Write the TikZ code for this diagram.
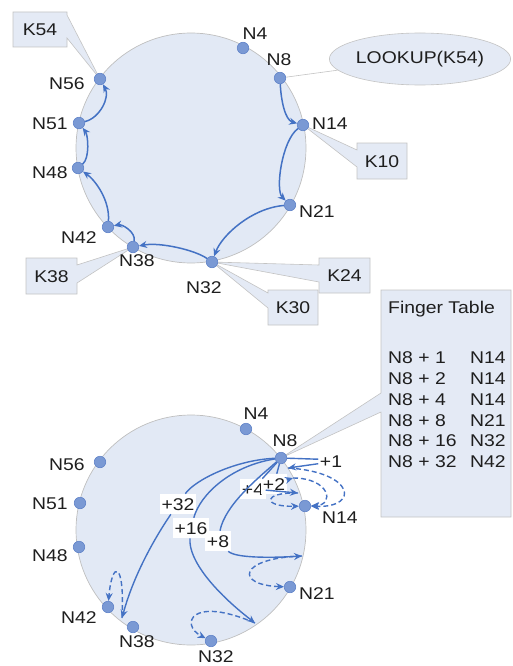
\documentclass[tikz,border=0pt]{standalone}
\usepackage{fontspec}
\setmainfont{Liberation Sans}[FakeStretch=1.14]
\usetikzlibrary{arrows.meta,shapes.geometric}

\definecolor{ringfill}{RGB}{226,233,245}
\definecolor{ringline}{RGB}{191,191,191}
\definecolor{dotfill}{RGB}{122,153,212}
\definecolor{dotline}{RGB}{95,130,200}
\definecolor{arrowc}{RGB}{68,114,196}
\definecolor{callfill}{RGB}{228,234,245}
\definecolor{callline}{RGB}{195,195,195}
\definecolor{txt}{RGB}{30,30,30}

\begin{document}
\begin{tikzpicture}[x=1pt,y=-1pt,
  every node/.style={font=\fontsize{17pt}{20.8pt}\selectfont},
  ring/.style={fill=ringfill, draw=ringline, line width=0.7pt},
  dot/.style={circle, fill=dotfill, draw=dotline, line width=0.6pt, minimum size=11.5pt, inner sep=0pt},
  lbl/.style={inner sep=0pt, text height=12.2pt, text depth=0pt, text=txt},
  callout/.style={fill=callfill, draw=callline, line width=0.6pt},
  hop/.style={draw=arrowc, line width=1.5pt, -{Stealth[length=8pt,width=7pt]}},
  finger/.style={draw=arrowc, line width=1.4pt},
  fingerto/.style={finger, -{Stealth[length=8pt,width=7pt]}},
  succ/.style={draw=arrowc, line width=1.4pt, dash pattern=on 5pt off 3pt, -{Stealth[length=8pt,width=7pt]}},
  tag/.style={lbl, fill=white, inner xsep=1.5pt, inner ysep=4pt},
]
\useasboundingbox (0,0) rectangle (512,666);

% ---------- the two rings ----------
\path[ring] (191,148) circle[radius=115pt];
\path[ring] (191,530) circle[radius=115pt];

% ---------- node positions, upper ring ----------
\coordinate (pa4)  at (243,48);
\coordinate (pa8)  at (280,78);
\coordinate (pa14) at (303,125);
\coordinate (pa21) at (290,205);
\coordinate (pa32) at (212,262);
\coordinate (pa38) at (133,247);
\coordinate (pa42) at (108,227);
\coordinate (pa48) at (78,168);
\coordinate (pa51) at (79,123);
\coordinate (pa56) at (100,79);

% ---------- node positions, lower ring ----------
\coordinate (pb4)  at (246,429);
\coordinate (pb8)  at (281,458);
\coordinate (pb14) at (305,506);
\coordinate (pb21) at (290,587);
\coordinate (pb32) at (211,641);
\coordinate (pb38) at (133,627);
\coordinate (pb42) at (108,607);
\coordinate (pb48) at (79,547);
\coordinate (pb51) at (80,503);
\coordinate (pb56) at (100,462);

% ---------- key callouts ----------
\filldraw[callout] (13,12) -- (67,12) -- (67,15) -- (pa56) -- (67,38) -- (67,47) -- (13,47) -- cycle;
\node[lbl] (k54) at (40,29.5) {K54};

\filldraw[callout] (357,143) -- (407,143) -- (407,179) -- (357,179) -- (357,167) -- (pa14) -- (357,150) -- cycle;
\node[lbl] (k10) at (382,161) {K10};

\filldraw[callout] (26,258) -- (77,258) -- (77,265) -- (pa38) -- (77,283) -- (77,294) -- (26,294) -- cycle;
\node[lbl] (k38) at (51.5,276) {K38};

\filldraw[callout] (319,258) -- (370,258) -- (370,293) -- (319,293) -- (319,282) -- (pa32) -- (319,265) -- cycle;
\node[lbl] (k24) at (344.5,275.5) {K24};

\filldraw[callout] (268,290) -- (318,290) -- (318,325) -- (268,325) -- (268,308) -- (pa32) -- (268,293) -- cycle;
\node[lbl] (k30) at (293,307.5) {K30};

% ---------- finger table callout ----------
\filldraw[callout] (381,290) -- (511,290) -- (511,517) -- (381,517) -- (381,412) -- (pb8) -- (381,393) -- cycle;
\node[lbl, anchor=west] (fthead) at (388,307) {Finger Table};
\foreach \i/\a/\b in {1/1/N14, 2/2/N14, 3/4/N14, 4/8/N21, 5/16/N32, 6/32/N42} {
  \node[lbl, anchor=west] (ftl\i) at (388,{357.5+20.8*(\i-1)}) {N8 + \a};
  \node[lbl, anchor=west] (ftr\i) at (470,{357.5+20.8*(\i-1)}) {\b};
}

% ---------- lookup request ----------
\node[ellipse, fill=callfill, draw=callline, line width=0.6pt, minimum width=154pt, minimum height=52pt, inner sep=0pt, text=txt] (lookup) at (420,59) {LOOKUP(K54)};
\draw[callline, line width=0.6pt] (pa8) -- (lookup);

% ---------- ring nodes ----------
\foreach \n in {4,8,14,21,32,38,42,48,51,56} {
  \node[dot] (a\n) at (pa\n) {};
  \node[dot] (b\n) at (pb\n) {};
}

% ---------- ring labels, upper ----------
\node[lbl] (la4)  at (255,33)  {N4};
\node[lbl] (la8)  at (279,59)  {N8};
\node[lbl] (la14) at (330,123) {N14};
\node[lbl] (la21) at (317,211) {N21};
\node[lbl] (la32) at (204,287) {N32};
\node[lbl] (la38) at (137,260) {N38};
\node[lbl] (la42) at (79,237)  {N42};
\node[lbl] (la48) at (50,172)  {N48};
\node[lbl] (la51) at (50,123)  {N51};
\node[lbl] (la56) at (67,83)   {N56};

% ---------- ring labels, lower ----------
\node[lbl] (lb4)  at (256,413) {N4};
\node[lbl] (lb8)  at (285,440) {N8};
\node[lbl] (lb14) at (340,517) {N14};
\node[lbl] (lb21) at (317,593) {N21};
\node[lbl] (lb32) at (216,656) {N32};
\node[lbl] (lb38) at (137,641) {N38};
\node[lbl] (lb42) at (79,617)  {N42};
\node[lbl] (lb48) at (50,555)  {N48};
\node[lbl] (lb51) at (50,503)  {N51};
\node[lbl] (lb56) at (67,464)  {N56};

% ---------- lookup path on the upper ring ----------
\draw[hop] (a8)  .. controls (281,100) and (285,120) .. (a14);
\draw[hop] (a14) .. controls (282,140) and (275,190) .. (a21);
\draw[hop] (a21) .. controls (252,208) and (222,235) .. (a32);
\draw[hop] (a32) .. controls (195,250) and (160,242) .. (a38);
\draw[hop] (a38) .. controls (136,232) and (122,224) .. (a42);
\draw[hop] (a42) .. controls (110,200) and (95,180)  .. (a48);
\draw[hop] (a48) .. controls (90,158)  and (88,135)  .. (a51);
\draw[hop] (a51) .. controls (100,118) and (110,97)  .. (a56);

% ---------- finger targets on the lower ring ----------
\coordinate (t9)  at (288,468);
\coordinate (t10) at (293,478);
\coordinate (t12) at (298,493);
\coordinate (t16) at (302,556);
\coordinate (t24) at (255,623);
\coordinate (t40) at (122,618);

% ---------- finger labels ----------
\node[lbl, inner xsep=1.5pt] (l1) at (331,461) {+1};
\node[tag] (l4)  at (253,489) {+4};
\node[tag] (l2)  at (274,484) {+2};
\node[tag] (l8)  at (218,541) {+8};
\node[tag] (l16) at (191,528) {+16};
\node[tag] (l32) at (178,504) {+32};

% ---------- finger pointers from N8 ----------
\draw[finger] (b8) -- (l1.172);
\draw[fingerto] (l1.192) -- (t9);
\draw[finger] (b8) -- (l2);
\draw[fingerto] (l2) -- (t10);
\draw[finger] (b8) -- (l4);
\draw[fingerto] (l4) -- (t12);
\draw[finger] (b8) .. controls (258,478) and (225,505) .. (l8);
\draw[fingerto] (l8) .. controls (235,558) and (270,558) .. (t16);
\draw[finger] (b8) .. controls (230,466) and (200,495) .. (l16);
\draw[fingerto] (l16) .. controls (188,560) and (215,592) .. (t24);
\draw[finger] (b8) .. controls (235,460) and (195,480) .. (l32);
\draw[fingerto] (l32) .. controls (160,530) and (135,570) .. (t40);

% ---------- successors of the finger targets ----------
\draw[succ] (t9)  .. controls (355,472) and (360,508) .. (b14);
\draw[succ] (t10) .. controls (330,478) and (335,505) .. (b14);
\draw[succ] (t12) .. controls (262,492) and (262,507) .. (b14);
\draw[succ] (t16) .. controls (238,558) and (235,585) .. (b21);
\draw[succ] (t24) .. controls (190,595) and (180,625) .. (b32);
\draw[succ] (t40) .. controls (125,560) and (112,560) .. (b42);
\end{tikzpicture}
\end{document}
